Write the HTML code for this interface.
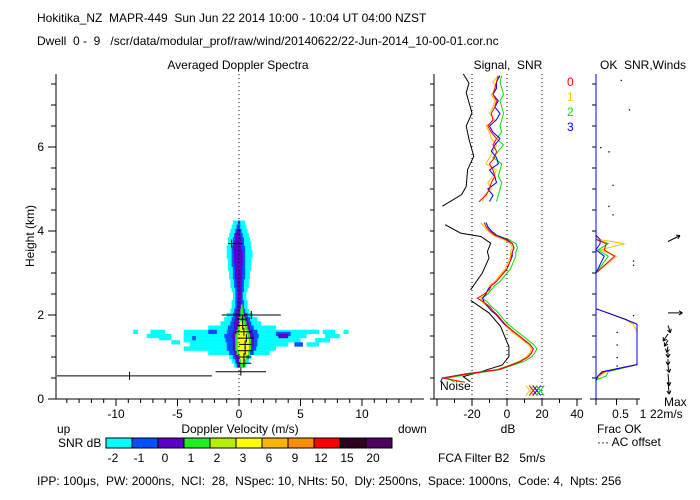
<!DOCTYPE html>
<html><head><meta charset="utf-8"><style>
html,body{margin:0;padding:0;background:#fff}
svg{display:block;font-family:"Liberation Sans",sans-serif}
text{font-size:12px;fill:#000;white-space:pre}
</style></head><body>
<svg id="c" width="700" height="500" viewBox="0 0 700 500" xml:space="preserve">
<text x="37" y="22">Hokitika_NZ  MAPR-449  Sun Jun 22 2014 10:00 - 10:04 UT 04:00 NZST</text>
<text x="37" y="45">Dwell  0 -  9   /scr/data/modular_prof/raw/wind/20140622/22-Jun-2014_10-00-01.cor.nc</text>
<text x="238" y="69" text-anchor="middle">Averaged Doppler Spectra</text>
<text x="508" y="69" text-anchor="middle">Signal,  SNR</text>
<text x="643" y="69" text-anchor="middle">OK  SNR,Winds</text>
<text x="34" y="236" text-anchor="middle" transform="rotate(-90 34 236)">Height (km)</text>
<text x="240" y="433" text-anchor="middle">Doppler Velocity (m/s)</text>
<text x="57" y="433">up</text>
<text x="398" y="433">down</text>
<text x="58" y="447">SNR dB</text>
<text x="508" y="433" text-anchor="middle">dB</text>
<text x="597" y="433">Frac OK</text>
<text x="597" y="446">··· AC offset</text>
<text x="438" y="462">FCA Filter B2   5m/s</text>
<text x="664" y="406">Max</text>
<text x="650" y="418">22m/s</text>
<text x="440" y="390">Noise</text>
<text x="37" y="485">IPP: 100μs,  PW: 2000ns,  NCI:  28,  NSpec: 10, NHts: 50,  Dly: 2500ns,  Space: 1000ns,  Code: 4,  Npts: 256</text>
<g id="g"></g>
</svg>
<script>
// ---- data ----
const gates=[0.8,0.9,1.0,1.1,1.2,1.3,1.4,1.5,1.6,1.7,1.8,1.9,2.0,2.1,2.2,2.3,2.4,2.5,2.6,2.7,2.8,2.9,3.0,3.1,3.2,3.3,3.4,3.5,3.6,3.7,3.8,3.9,4.0,4.1,4.2];
const cyanLo=[-0.4,-0.6,-0.8,-2.5,-4.5,-4,-4.5,-4.5,-4.5,-2.5,-1.5,-1.2,-1,-0.7,-0.6,-0.6,-0.5,-0.5,-0.6,-0.7,-0.7,-0.8,-0.8,-0.9,-0.9,-0.9,-1,-1,-1,-0.9,-0.9,-0.8,-0.7,-0.6,-0.5];
const cyanHi=[0.6,0.8,1.0,2.5,3,4,5,5.5,6.5,3,1.8,1.5,1.1,0.8,0.7,0.7,0.6,0.6,0.7,0.8,0.8,0.9,0.9,1.0,1.0,1.0,1.1,1.1,1.0,1.0,0.9,0.8,0.7,0.6,0.5];
const blueLo=[-0.2,-0.3,-0.5,-0.8,-1.0,-1.0,-1.1,-1.2,-1.0,-0.9,-0.7,-0.6,-0.5,-0.4,-0.3,-0.3,-0.3,-0.3,-0.3,-0.4,-0.4,-0.5,-0.5,-0.5,-0.6,-0.6,-0.6,-0.6,-0.6,-0.5,-0.5,-0.4,-0.3,-0.2,-0.1];
const blueHi=[0.4,0.5,0.8,1.2,1.4,1.5,1.5,1.6,1.5,1.2,1.0,0.9,0.7,0.5,0.4,0.4,0.3,0.3,0.4,0.4,0.4,0.5,0.5,0.5,0.5,0.5,0.5,0.5,0.5,0.4,0.4,0.3,0.2,0.1,0.1];
const purpleLo=[-0.1,-0.2,-0.3,-0.4,-0.5,-0.5,-0.5,-0.6,-0.5,-0.4,-0.4,-0.3,-0.3,-0.2,-0.15,-0.15,-0.1,-0.1,-0.15,-0.2,-0.2,-0.3,-0.3,-0.3,-0.35,-0.4,-0.4,-0.4,-0.45,-0.4,-0.3,-0.3,-0.2,null,null];
const purpleHi=[0.3,0.4,0.6,0.9,1.1,1.2,1.2,1.2,1.1,0.9,0.8,0.7,0.5,0.3,0.25,0.2,0.2,0.2,0.2,0.2,0.2,0.25,0.25,0.25,0.3,0.3,0.3,0.3,0.2,0.2,0.2,0.1,0.1,null,null];
const greenLo=[0.1,0,0,-0.2,-0.3,-0.3,-0.3,-0.3,-0.2,-0.1,0,0,0.1,0.1,0.15,null,null,null,null,null,null,null,null,null,null,null,null,null,null,null,null,null,null,null,null];
const greenHi=[0.5,0.6,0.7,0.9,1.0,1.0,1.0,0.9,0.8,0.7,0.6,0.5,0.4,0.35,0.3,null,null,null,null,null,null,null,null,null,null,null,null,null,null,null,null,null,null,null,null];
const yellowLo=[null,0.15,0.1,0,-0.1,-0.1,-0.1,-0.1,0,0.05,0.1,null,null,null,null,null,null,null,null,null,null,null,null,null,null,null,null,null,null,null,null,null,null,null,null];
const yellowHi=[null,0.45,0.55,0.75,0.8,0.8,0.8,0.7,0.6,0.5,0.4,null,null,null,null,null,null,null,null,null,null,null,null,null,null,null,null,null,null,null,null,null,null,null,null];
const blobH=[1.5,1.6,1.6,1.4,1.5,1.3,1.6,1.45,1.35,1.55,1.5,1.6,1.6,1.45,1.3];
const blobLo=[-7.5,-7.2,6.8,6.2,7.0,5.5,8.5,-6.5,-5.5,3.0,3.2,-2.5,-8.6,-3.8,4.5];
const blobHi=[-5.5,-6.0,7.8,7.4,8.2,6.5,8.9,-5.5,-4.8,4.2,4.0,-1.8,-8.2,-3.5,5.2];
const blobLevel=[0,0,0,0,0,0,0,0,0,1,2,1,0,1,1];
const markH=[3.7,2.0,0.65,0.55,1.9,1.75,1.6,1.45,1.3,1.15,1.0,0.85];
const markV=[-0.6,1.0,0.15,-8.9,0.3,0.3,0.4,0.6,0.5,0.5,0.4,0.4];
const markLo=[-0.9,-1.4,-1.9,-14.8,-0.2,-0.2,-0.3,-0.1,0,-0.1,0,0];
const markHi=[0.3,3.4,2.2,-2.2,0.6,0.7,1.0,1.2,1.0,1.1,1.0,1.0];
const levelColors=["#00ffff","#0050ff","#5a00c8","#20f020","#b4f000","#ffff00","#ffb400","#ff8c00","#ff0000","#300020","#500060"];
const levelLabels=["-2","-1","0","1","2","3","6","9","12","15","20"];
// signal panel
const sigH=[7.74,7.52,7.29,6.81,6.5,6.18,5.78,5.46,5.06,4.87,4.59,null,4.15,3.95,3.87,3.71,3.51,3.36,3.0,2.6,null,2.35,2.05,1.73,1.25,1.01,0.81,0.65,0.53,0.41];
const sigDb=[-25,-21.7,-23.3,-20,-23.3,-21.7,-19,-22.5,-23.3,-25.9,-36.9,null,-35.4,-26.5,-15,-9.3,-11.2,-10.3,-14.1,-20.8,null,-20.8,-10.3,-3.7,1.1,1.1,-2.7,-15,-25,-21];
const lowH=[0.4,0.5,0.6,0.7,0.8,0.9,1.0,1.1,1.2,1.3,1.4,1.5,1.6,1.7,1.8,1.9,2.0,2.1,2.2,2.3,2.4,2.5,2.6,2.7,2.8,2.9,3.0,3.1,3.2,3.3,3.4,3.5,3.6,3.7,3.8,3.9,4.0,4.1,4.2];
const upH=[4.7,4.85,5.0,5.15,5.3,5.45,5.6,5.75,5.9,6.05,6.2,6.35,6.5,6.65,6.8,6.95,7.1,7.25,7.4,7.55,7.7];
const snr0Low=[-24,-37,-22,-5,2,8,12,14,15,13,10,7,4,1,-1.5,-3.5,-5.5,-8,-10,-13,-17,-13,-10,-9,-6,-4,-2,0,1,2,2.5,3,4,3,-1,-7,-10,-12,-13];
const snr1Low=[-26,-36,-24,-6,1,7,11,13,14,12,9,6,3,0,-2,-4,-6,-9,-11,-14,-15,-12,-11,-10,-7,-5,-3,-1,0,1,2,2,3,2,-2,-8,-11,-13,-15];
const snr2Low=[-30,-34,-20,-4,3,10,14,16,17,15,12,9,6,3,0,-2,-4,-6,-9,-11,-14,-11,-9,-7,-4,-2,0,2,3,4,5,5,6,5,1,-6,-9,-11,-12];
const snr3Low=[-38,-37,-23,-5,2,8,12,14,15,13,10,7,4,1,-2,-4,-6,-9,-11,-13,-14,-12,-11,-9,-6,-4,-2,0,1,2,3,3,4,3,0,-6,-9,-11,-12];
const snr0Up=[-16,-12,-10,-9,-7,-8,-10,-7,-6,-8,-6,-9,-11,-8,-9,-7,-6,-8,-7,-6,-5];
const snr1Up=[-14,-13,-9,-11,-8,-6,-12,-10,-8,-6,-9,-10,-12,-7,-10,-8,-7,-9,-6,-8,-5];
const snr2Up=[-6,-5,-4,-3,-5,-4,-3,-8,-5,-2,-6,-3,-4,-3,-2,-3,-4,-2,-3,-4,-3];
const snr3Up=[-10,-8,-11,-6,-7,-10,-5,-6,-9,-7,-4,-8,-10,-6,-4,-7,-5,-8,-6,-6,-4];
const noiseDb=[13,15,17,19];
const snrColors=["#ff0000","#ffc000","#00e000","#0000ff"];
// frac panel
const fracH=[0.45,0.55,0.65,0.82,1.0,1.2,1.4,1.6,1.7,1.78,1.9,2.15,3.0,3.4,3.55,3.7,3.8,3.9];
const frac0=[0,0.05,0.2,1,1,1,1,1,1,1,0.72,0,0,0.45,0.2,0.25,0,0];
const frac1=[0,0.1,0.25,1,1,1,1,1,0.95,0.9,0.7,0,0,0.5,0.1,0.7,0.05,0];
const frac2=[0,0.25,0.3,1,1,1,1,1,1,1,0.7,0,0,0.3,0.05,0.3,0,0];
const frac3=[0,0.05,0.15,1,1,1,1,1,1,1,0.7,0,0,0.2,0,0.1,0.1,0];
const acH=[7.6,6.9,5.9,5.1,4.6,3.3,3.2,2.0,1.6,1.3,1.0,0.8,6.0,4.4];
const acF=[0.6,0.8,0.3,0.4,0.3,0.9,0.9,0.9,0.5,0.5,0.5,0.5,0.1,0.4];
const windH=[3.75,2.05,1.75,1.55,1.4,1.25,1.1,0.95,0.8,0.6,0.4];
const windU=[10,12,2,-4,-3,-1,0,0,1,1,1];
const windV=[5,0,-6,-6,-5,-5,-4,-5,-6,-10,-10];
// ---- scales ----
const NS="http://www.w3.org/2000/svg",G=document.getElementById('g');
const Y=h=>399-42*h, VX=v=>239+12.3*v, DX=d=>507+1.75*d, FX=f=>596+41*f;
function el(t,a,p){const e=document.createElementNS(NS,t);for(const k in a)e.setAttribute(k,a[k]);(p||G).appendChild(e);return e;}
function ln(x1,y1,x2,y2,s,d,w){return el('line',{x1,y1,x2,y2,stroke:s||'#000','stroke-width':w||1,'stroke-dasharray':d||'none'});}
// spectra
const lv=[[cyanLo,cyanHi,0],[blueLo,blueHi,1],[purpleLo,purpleHi,2],[greenLo,greenHi,3],[yellowLo,yellowHi,5]];
lv.forEach(([lo,hi,c])=>{gates.forEach((h,i)=>{if(lo[i]==null)return;
 const r=el('rect',{x:VX(lo[i]),y:Y(h+0.05),width:VX(hi[i])-VX(lo[i]),height:4.3,fill:levelColors[c]});
 
 });
 if(c===0){blobH.forEach((h,i)=>{const r=el('rect',{x:VX(blobLo[i]),y:Y(h+0.05),width:VX(blobHi[i])-VX(blobLo[i]),height:4.3,fill:levelColors[blobLevel[i]]});
 
 });}
});
markH.forEach((h,i)=>{const g=el('g',{});
 
 
 el('line',{x1:VX(markLo[i]),y1:Y(h),x2:VX(markHi[i]),y2:Y(h),stroke:'#000'},g);
 el('line',{x1:VX(markV[i]),y1:Y(h)-4,x2:VX(markV[i]),y2:Y(h)+4,stroke:'#000'},g);});
ln(239,74,239,399,'#000','1,3');
// left axes
ln(56,74,56,399);ln(50,399,424,399);
for(let h=0;h<=7.5;h+=0.5){ln(h%2===0?48:51,Y(h),56,Y(h));}
[0,2,4,6].forEach(h=>{const t=el('text',{x:44,y:Y(h)+4,'text-anchor':'end'});t.textContent=h;
 
 });
for(let v=-14;v<=14;v++){ln(VX(v),399,VX(v),v%5===0?406:403);}
[-10,-5,0,5,10].forEach(v=>{const t=el('text',{x:VX(v),y:418,'text-anchor':'middle'});t.textContent=v;
 
 });
// colorbar
levelColors.forEach((c,i)=>{const r=el('rect',{x:106+26*i,y:438,width:26,height:10,fill:c,stroke:'#000'});
 
 
 const t=el('text',{x:113+26*i,y:462,'text-anchor':'middle'});t.textContent=levelLabels[i];
 
 });
// signal panel
ln(434,74,434,399);ln(430,399,582,399);
for(let h=0;h<=7.5;h+=0.5)ln(430,Y(h),434,Y(h));
[-40,-30,-20,-10,0,10,20,30,40].forEach(d=>ln(DX(d),399,DX(d),d%20===0?406:403));
[-20,0,20].forEach(d=>{ln(DX(d),74,DX(d),399,'#000','1,3');});
[-20,0,20,40].forEach(d=>{const t=el('text',{x:DX(d),y:418,'text-anchor':'middle'});t.textContent=d;
 
 });
function poly(hs,vs,fx,col,name){let segs=[],cur=[];hs.forEach((h,i)=>{if(h==null||vs[i]==null){if(cur.length)segs.push(cur);cur=[];return;}cur.push(fx(vs[i]).toFixed(1)+','+Y(h).toFixed(1));});if(cur.length)segs.push(cur);
 segs.forEach(s=>{const p=el('polyline',{points:s.join(' '),fill:'none',stroke:col,'stroke-width':1});
 
 });}
poly(sigH,sigDb,DX,'#000','signal-line');
[[snr1Low,snr1Up],[snr2Low,snr2Up],[snr3Low,snr3Up],[snr0Low,snr0Up]].forEach((s,k)=>{const ci=[1,2,3,0][k];
 poly(lowH,s[0],DX,snrColors[ci],'snr-line-'+ci);poly(upH,s[1],DX,snrColors[ci],'snr-line-'+ci);});
noiseDb.forEach((d,i)=>{const x=DX(d),y=Y(0.2);const g=el('g',{stroke:snrColors[[1,0,3,2][i]]});
 
 
 el('line',{x1:x-4,y1:y-5,x2:x+4,y2:y+5},g);el('line',{x1:x-4,y1:y+5,x2:x+4,y2:y-5},g);});
["0","1","2","3"].forEach((s,i)=>{const t=el('text',{x:567,y:86+15*i,fill:snrColors[i]});t.textContent=s;t.style.fill=snrColors[i];
 
 });
// frac panel
ln(590,399,640,399);
for(let h=0;h<=7.5;h+=0.5)ln(592,Y(h),596,Y(h));
[0,0.5,1].forEach(f=>ln(FX(f),399,FX(f),405));
[[0.5,"0.5"],[1,"1"]].forEach(([f,s])=>{const t=el('text',{x:FX(f)+(f===1?6:4),y:418,'text-anchor':'middle'});t.textContent=s;
 
 });
acH.forEach((h,i)=>{const r=el('rect',{x:FX(acF[i]),y:Y(h),width:1.3,height:1.3,fill:'#000'});
 
 });
poly(fracH,frac1,FX,snrColors[1],'frac-line-1');poly(fracH,frac2,FX,snrColors[2],'frac-line-2');poly(fracH,frac0,FX,snrColors[0],'frac-line-0');poly(fracH,frac3,FX,snrColors[3],'frac-line-3');
ln(596,74,596,399,'#0000ff');
windH.forEach((h,i)=>{const x0=668,y0=Y(h),x1=x0+windU[i]*1.2,y1=y0-windV[i]*1.2;const g=el('g',{stroke:'#000'});
 
 
 el('line',{x1:x0,y1:y0,x2:x1,y2:y1},g);
 const a=Math.atan2(y1-y0,x1-x0);[2.6,-2.6].forEach(d=>el('line',{x1,y1,x2:x1+4*Math.cos(a+d),y2:y1+4*Math.sin(a+d)},g));});
</script>
</body></html>
